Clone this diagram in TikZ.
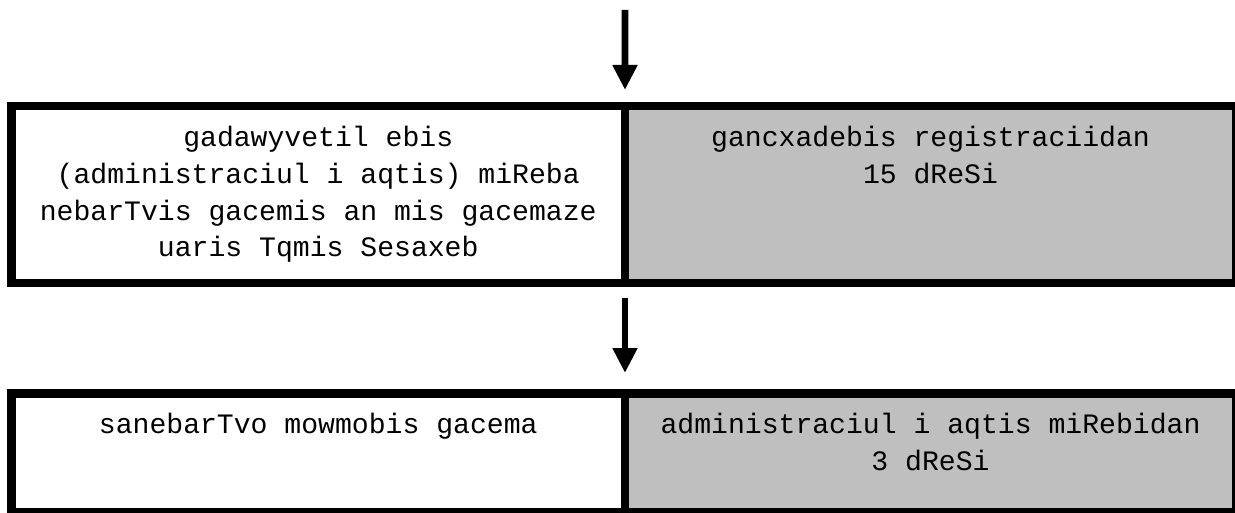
\documentclass[tikz,border=0pt]{standalone}
\usepackage{fontspec}
\newfontfamily\cellfont{Liberation Mono}
\usetikzlibrary{arrows.meta}
\definecolor{cGray}{HTML}{BFBFBF}

\begin{document}
\begin{tikzpicture}[
  every node/.style={font=\cellfont\fontsize{16pt}{21pt}\selectfont},
  cell/.style={draw, line width=4.8pt, outer sep=0pt, inner sep=0pt, anchor=north west},
  txt/.style={align=center, anchor=north, inner sep=0pt, yshift=-0.39cm},
  flow/.style={-{Triangle[length=0.5cm, width=0.47cm]}, line width=3.8pt},
]
  \useasboundingbox (0,0) rectangle (24.7,10.24);

  % Decision row
  \node[cell, minimum width=12.27cm, minimum height=3.54cm] (decL) at (0.23,8.12) {};
  \node[cell, fill=cGray, minimum width=12.22cm, minimum height=3.54cm] (decR) at (decL.north east) {};

  % Permit row
  \node[cell, minimum width=12.27cm, minimum height=2.37cm] (permL) at (0.23,2.37) {};
  \node[cell, fill=cGray, minimum width=12.22cm, minimum height=2.37cm] (permR) at (permL.north east) {};

  % Texts
  \node[txt] (decLtxt) at (decL.north) {gadawyvetil ebis\\(administraciul i aqtis) miReba\\nebarTvis gacemis an mis gacemaze\\uaris Tqmis Sesaxeb};
  \node[txt] (decRtxt) at (decR.north) {gancxadebis registraciidan\\15 dReSi};
  \node[txt] (permLtxt) at (permL.north) {sanebarTvo mowmobis gacema};
  \node[txt] (permRtxt) at (permR.north) {administraciul i aqtis miRebidan\\3 dReSi};

  % Arrows
  \coordinate (start) at (12.5,10.04);
  \draw[flow, shorten >=0.32cm] (start) -- (decL.north east);
  \draw[flow, shorten <=0.30cm, shorten >=0.41cm] (decL.south east) -- (permL.north east);
\end{tikzpicture}
\end{document}
